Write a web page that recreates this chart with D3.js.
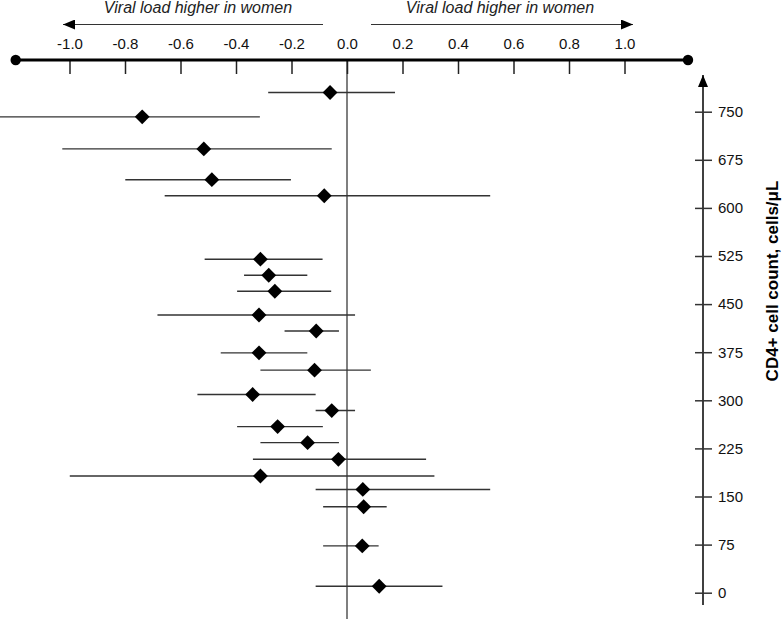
<!DOCTYPE html>
<html>
<head>
<meta charset="utf-8">
<script src="https://cdn.jsdelivr.net/npm/d3@7"></script>
<style>
  html, body { margin: 0; padding: 0; background: #fff; }
  svg { display: block; }
  text { font-family: "Liberation Sans", Arial, sans-serif; }
</style>
</head>
<body>
<svg id="chart" width="782" height="619"></svg>
<script>
// CD4+ cell count (y position) of each estimate
const cd4 = [780, 742, 692, 644, 619, 520, 495, 470, 433, 408, 374, 347, 309, 284, 259, 234, 208, 182, 161, 134, 73, 10];
// point estimate of difference
const est = [-0.061, -0.738, -0.516, -0.487, -0.082, -0.312, -0.282, -0.260, -0.317, -0.111, -0.317, -0.117, -0.340, -0.055, -0.250, -0.142, -0.031, -0.312, 0.057, 0.060, 0.055, 0.116];
// lower and upper confidence limits
const lo  = [-0.284, -1.26, -1.026, -0.799, -0.657, -0.513, -0.371, -0.396, -0.683, -0.225, -0.455, -0.312, -0.539, -0.113, -0.396, -0.312, -0.339, -0.999, -0.113, -0.086, -0.086, -0.113];
const hi  = [0.173, -0.314, -0.055, -0.202, 0.516, -0.088, -0.143, -0.057, 0.029, -0.029, -0.143, 0.086, -0.113, 0.029, -0.087, -0.029, 0.285, 0.315, 0.516, 0.143, 0.114, 0.344];
// axis ticks
const xTicks = [-1.0, -0.8, -0.6, -0.4, -0.2, 0.0, 0.2, 0.4, 0.6, 0.8, 1.0];
const yTicks = [0, 75, 150, 225, 300, 375, 450, 525, 600, 675, 750];
const arrowLabels = ["Viral load higher in women", "Viral load higher in women"];
const yTitle = "CD4+ cell count, cells/\u03bcL";

const svg = d3.select("#chart");

const x = d3.scaleLinear().domain([-1, 1]).range([69.5, 624.5]);
const y = d3.scaleLinear().domain([0, 750]).range([592.7, 111.7]);

const axisY0 = 60;
const axisX0 = 703;

// defs: arrowheads
const defs = svg.append("defs");
defs.append("marker")
  .attr("id", "arr")
  .attr("viewBox", "0 0 12 10")
  .attr("refX", 12).attr("refY", 5)
  .attr("markerWidth", 12).attr("markerHeight", 10)
  .attr("markerUnits", "userSpaceOnUse")
  .attr("orient", "auto")
  .append("path").attr("d", "M0,0 L12,5 L0,10 Z").attr("fill", "#000");

// zero line
svg.append("line")
  .attr("x1", x(0)).attr("x2", x(0))
  .attr("y1", axisY0).attr("y2", 619)
  .attr("stroke", "#555").attr("stroke-width", 1.5);

// top x axis
const xAxis = d3.axisTop(x)
  .tickValues(xTicks)
  .tickFormat(d3.format(".1f"))
  .tickSizeInner(-14)
  .tickSizeOuter(0)
  .tickPadding(11);
const gx = svg.append("g").attr("transform", `translate(0,${axisY0})`).call(xAxis);
gx.select(".domain").remove();
gx.selectAll(".tick line").attr("stroke", "#222").attr("stroke-width", 1.5);
gx.selectAll(".tick text")
  .attr("font-size", 15)
  .attr("fill", "#111")
  .style("font-family", '"Liberation Sans", Arial, sans-serif')
  .text(d => d3.format(".1f")(d).replace("\u2212", "-"));

// thick axis line with end dots
svg.append("line")
  .attr("x1", 15.7).attr("x2", 688)
  .attr("y1", axisY0).attr("y2", axisY0)
  .attr("stroke", "#000").attr("stroke-width", 3);
svg.append("circle").attr("cx", 15.7).attr("cy", axisY0).attr("r", 5.2).attr("fill", "#000");
svg.append("circle").attr("cx", 688).attr("cy", axisY0).attr("r", 5.2).attr("fill", "#000");

// direction arrows
const arrowY = 24.5;
svg.append("line")
  .attr("x1", 323).attr("x2", 63).attr("y1", arrowY).attr("y2", arrowY)
  .attr("stroke", "#333").attr("stroke-width", 1.2)
  .attr("marker-end", "url(#arr)");
svg.append("line")
  .attr("x1", 371).attr("x2", 633).attr("y1", arrowY).attr("y2", arrowY)
  .attr("stroke", "#333").attr("stroke-width", 1.2)
  .attr("marker-end", "url(#arr)");
svg.selectAll("text.arrlab")
  .data(arrowLabels)
  .join("text")
  .attr("class", "arrlab")
  .attr("x", (d, i) => i === 0 ? 198 : 500)
  .attr("y", 13)
  .attr("text-anchor", "middle")
  .attr("font-size", 16)
  .attr("font-style", "italic")
  .attr("fill", "#222")
  .text(d => d);

// right y axis
svg.append("line")
  .attr("x1", axisX0).attr("x2", axisX0)
  .attr("y1", 605).attr("y2", 75)
  .attr("stroke", "#000").attr("stroke-width", 1.5)
  .attr("marker-end", "url(#arr)");
const yAxis = d3.axisRight(y)
  .tickValues(yTicks)
  .tickSizeInner(9)
  .tickSizeOuter(0)
  .tickPadding(6);
const gy = svg.append("g").attr("transform", `translate(${axisX0},0)`).call(yAxis);
gy.select(".domain").remove();
gy.selectAll(".tick line").attr("x1", -8).attr("stroke", "#333").attr("stroke-width", 1.5);
gy.selectAll(".tick text")
  .attr("font-size", 15)
  .attr("fill", "#111")
  .style("font-family", '"Liberation Sans", Arial, sans-serif');

svg.append("text")
  .attr("transform", `translate(778,281) rotate(-90)`)
  .attr("text-anchor", "middle")
  .attr("font-size", 17)
  .attr("font-weight", "bold")
  .attr("fill", "#000")
  .text(yTitle);

// data
const idx = d3.range(cd4.length);
svg.append("g").selectAll("line")
  .data(idx)
  .join("line")
  .attr("x1", i => x(lo[i])).attr("x2", i => x(hi[i]))
  .attr("y1", i => y(cd4[i])).attr("y2", i => y(cd4[i]))
  .attr("stroke", "#333").attr("stroke-width", 1.4);

const dsym = d3.symbol().type(d3.symbolSquare).size(110);
svg.append("g").selectAll("path")
  .data(idx)
  .join("path")
  .attr("d", dsym)
  .attr("transform", i => `translate(${x(est[i])},${y(cd4[i])}) rotate(45)`)
  .attr("fill", "#000");
</script>
</body>
</html>
